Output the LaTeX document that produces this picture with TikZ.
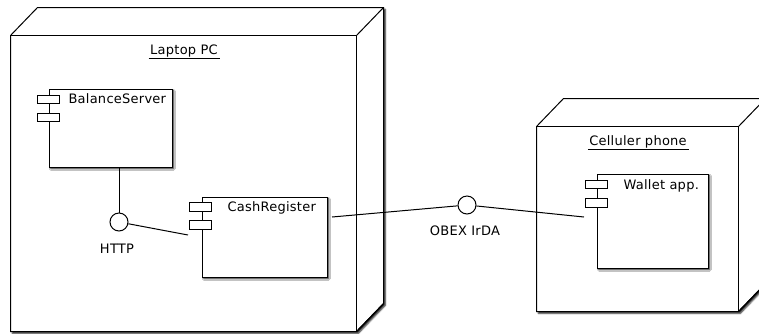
\documentclass[tikz,border=0pt]{standalone}
\usepackage{fontspec}
\newfontfamily\umlfont[LetterSpace=2]{DejaVu Sans}
\usetikzlibrary{shadows.blur}
\begin{document}
\begin{tikzpicture}[x=1pt,y=-1pt,
  font=\umlfont\fontsize{13}{15}\selectfont,
  line width=1pt,
  shade/.style={blur shadow={shadow xshift=1.8pt, shadow yshift=-1.8pt,
      shadow blur radius=1.5pt, shadow opacity=90}},
  face/.style={rectangle, inner sep=0pt},
  box/.style={rectangle, draw, fill=white, inner sep=0pt},
  port/.style={box, minimum width=22pt, minimum height=8.5pt},
  iface/.style={circle, draw, fill=white, inner sep=0pt, minimum size=18pt},
  title/.style={anchor=base, inner sep=0pt},
  txt/.style={anchor=base west, inner sep=0pt},
  wire/.style={draw}]
\useasboundingbox (0,0) rectangle (759,333);

% ---------- deployment node: Laptop PC ----------
\path node[face, minimum width=345pt, minimum height=295pt] (lap) at (183.5,183.5) {};
\filldraw[fill=white, shade]
  (lap.south west) -- (lap.north west) -- ([shift={(27,-28)}]lap.north west)
  -- ([shift={(27,-28)}]lap.north east) -- ([shift={(27,-28)}]lap.south east)
  -- (lap.south east) -- cycle;
\draw (lap.north west) rectangle (lap.south east);
\draw (lap.north east) -- ++(27,-28);
\draw (lap.south east) -- ++(27,-28);
\node[title] (lapt) at (184,54) {Laptop PC};
\draw ([xshift=-1pt,yshift=-4pt]lapt.base west) -- ([xshift=2pt,yshift=-4pt]lapt.base east);

% ---------- deployment node: Celluler phone ----------
\path node[face, minimum width=201pt, minimum height=184pt] (pho) at (637.5,219) {};
\filldraw[fill=white, shade]
  (pho.south west) -- (pho.north west) -- ([shift={(27,-28)}]pho.north west)
  -- ([shift={(27,-28)}]pho.north east) -- ([shift={(27,-28)}]pho.south east)
  -- (pho.south east) -- cycle;
\draw (pho.north west) rectangle (pho.south east);
\draw (pho.north east) -- ++(27,-28);
\draw (pho.south east) -- ++(27,-28);
\node[title] (phot) at (638,145) {Celluler phone};
\draw ([xshift=-1pt,yshift=-4pt]phot.base west) -- ([xshift=2pt,yshift=-4pt]phot.base east);

% ---------- components ----------
\node[box, shade, minimum width=123pt, minimum height=78pt] (bal) at (110.5,128) {};
\node[port] (balp1) at (48,99.5) {};
\node[port] (balp2) at (48,117.5) {};
\node[txt] (balt) at (68,103) {BalanceServer};

\node[box, shade, minimum width=125pt, minimum height=80pt] (cr) at (264.5,237) {};
\node[port] (crp1) at (200,207) {};
\node[port] (crp2) at (200,225) {};
\node[txt] (crt) at (227,211) {CashRegister};

\node[box, shade, minimum width=111pt, minimum height=94pt] (wal) at (652.5,221) {};
\node[port] (walp1) at (596,184.5) {};
\node[port] (walp2) at (596,203) {};
\node[txt] (walt) at (623,189) {Wallet app.};

% ---------- interfaces ----------
\node[iface] (http) at (119,222) {};
\node[title] (httpt) at (117,253) {HTTP};
\node[iface] (obex) at (467,205) {};
\node[title] (obext) at (465,235) {OBEX IrDA};

% ---------- connectors ----------
\coordinate (crhttp) at (188,235);
\coordinate (crobex) at (332,217);
\coordinate (walobex) at (584,217);
\draw[wire] (http.north) -- (http.north |- bal.south);
\draw[wire] (http) -- (crhttp);
\draw[wire] (crobex) -- (obex);
\draw[wire] (obex) -- (walobex);
\end{tikzpicture}
\end{document}
